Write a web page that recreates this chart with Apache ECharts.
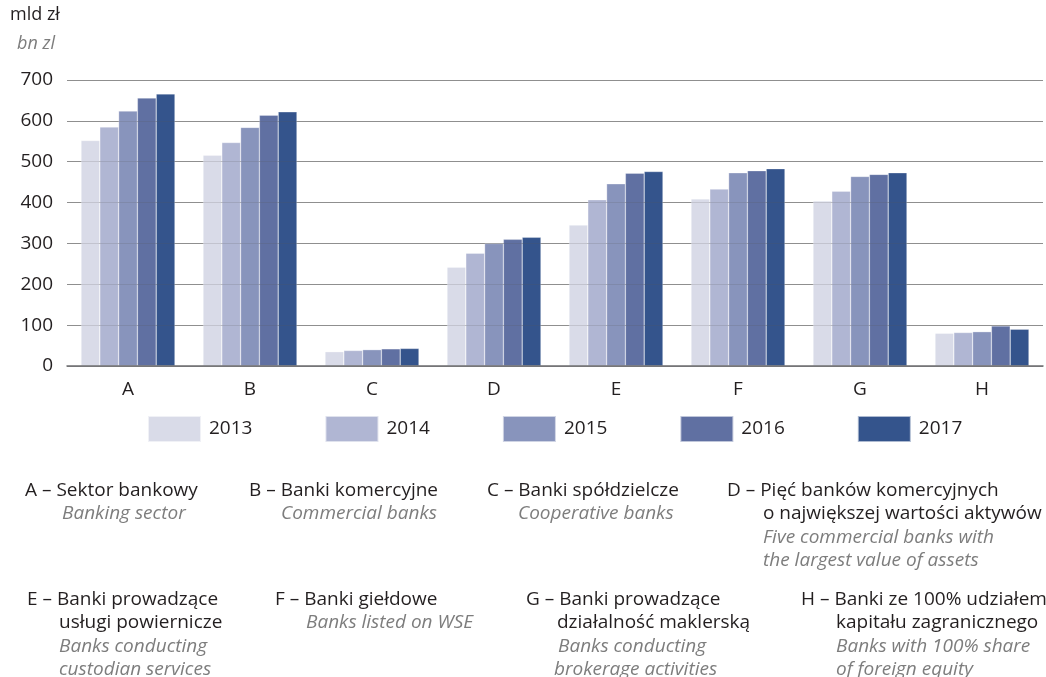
<!DOCTYPE html>
<html>
<head>
<meta charset="utf-8">
<script src="https://cdn.jsdelivr.net/npm/echarts@6/dist/echarts.min.js"></script>
<style>
  html, body { margin:0; padding:0; background:#fff; }
  #chart { width:1046px; height:677px; }
</style>
</head>
<body>
<div id="chart"></div>
<script>
/* kategorie i lata */
const CATEGORIES = ['A', 'B', 'C', 'D', 'E', 'F', 'G', 'H']
const YEARS = ['2013', '2014', '2015', '2016', '2017']

/* aktywa, mld zł */
const V2013 = [552, 516, 35, 242, 345, 409, 404, 80]
const V2014 = [585, 547, 38, 276, 407, 433, 428, 82]
const V2015 = [624, 584, 40, 300, 446, 473, 464, 84]
const V2016 = [656, 614, 42, 310, 472, 478, 469, 98]
const V2017 = [666, 622, 43, 315, 476, 483, 473, 90]

const Y_TICKS = [0, 100, 200, 300, 400, 500, 600, 700]

const COLORS = ['#d9dbe8', '#b0b6d3', '#8894bc', '#6070a2', '#34548c']
const FONT = '"Open Sans", sans-serif'
const TXT = '#231f20'
const GREY = '#7d7d7d'

/* opisy kategorii pod wykresem */
function note(x, y, lines) {
  return lines.map(([t, it], i) => ({
    type: 'text', left: x[i] !== undefined ? x[i] : x[x.length - 1], top: y + i * 23.5,
    style: {
      text: t, fill: it ? GREY : TXT,
      font: (it ? 'italic ' : '') + '19px ' + FONT
    }
  }))
}

const chart = echarts.init(document.getElementById('chart'))

const series = [V2013, V2014, V2015, V2016, V2017].map((d, i) => ({
  name: YEARS[i],
  type: 'bar',
  data: d,
  barGap: '0%',
  barCategoryGap: '23%',
  itemStyle: { color: COLORS[i], borderColor: 'rgba(255,255,255,0.6)', borderWidth: 0.5 }
}))

const yBase = {
  type: 'value',
  min: Y_TICKS[0], max: Y_TICKS[Y_TICKS.length - 1], interval: 100,
  axisLine: { show: false },
  axisTick: { show: false }
}

chart.setOption({
  animation: false,
  textStyle: { fontFamily: FONT },
  grid: { left: 67, right: 3, top: 80, bottom: 311 },
  legend: {
    left: 147, top: 415, padding: 0,
    itemWidth: 53, itemHeight: 26, itemGap: 72,
    icon: 'rect',
    textStyle: { fontSize: 19, color: TXT, padding: [0, 0, 0, 3] },
    data: YEARS
  },
  xAxis: {
    type: 'category',
    data: CATEGORIES,
    axisTick: { show: false },
    axisLine: { lineStyle: { color: '#6d6e70', width: 1.5 } },
    axisLabel: { fontSize: 19, color: TXT, margin: 14 },
    z: 4
  },
  yAxis: [
    {
      ...yBase,
      axisLabel: { fontSize: 19, color: TXT, margin: 14 },
      splitLine: { lineStyle: { color: '#9c9c9c', width: 1.2 } }
    },
    {
      // siatka przebijająca przez słupki, jak w oryginale
      ...yBase,
      position: 'left',
      axisLabel: { show: false },
      splitLine: { lineStyle: { color: 'rgba(90,90,90,0.18)', width: 1.2 } },
      z: 3
    }
  ],
  graphic: [
    { type: 'text', left: 10, top: 6, style: { text: 'mld zł', fill: TXT, font: '18px ' + FONT } },
    { type: 'text', left: 17, top: 35, style: { text: 'bn zl', fill: GREY, font: 'italic 18px ' + FONT } },
    ...note([25, 62], 481, [['A – Sektor bankowy'], ['Banking sector', 1]]),
    ...note([249, 281], 481, [['B – Banki komercyjne'], ['Commercial banks', 1]]),
    ...note([487, 518], 481, [['C – Banki spółdzielcze'], ['Cooperative banks', 1]]),
    ...note([727, 763], 481, [['D – Pięć banków komercyjnych'], ['o największej wartości aktywów'],
      ['Five commercial banks with', 1], ['the largest value of assets', 1]]),
    ...note([27, 59], 590, [['E – Banki prowadzące'], ['usługi powiernicze'],
      ['Banks conducting', 1], ['custodian services', 1]]),
    ...note([275, 306], 590, [['F – Banki giełdowe'], ['Banks listed on WSE', 1]]),
    ...note([526, 557, 558, 554], 590, [['G – Banki prowadzące'], ['działalność maklerską'],
      ['Banks conducting', 1], ['brokerage activities', 1]]),
    ...note([801, 836], 590, [['H – Banki ze 100% udziałem'], ['kapitału zagranicznego'],
      ['Banks with 100% share', 1], ['of foreign equity', 1]])
  ],
  series
})
</script>
</body>
</html>
